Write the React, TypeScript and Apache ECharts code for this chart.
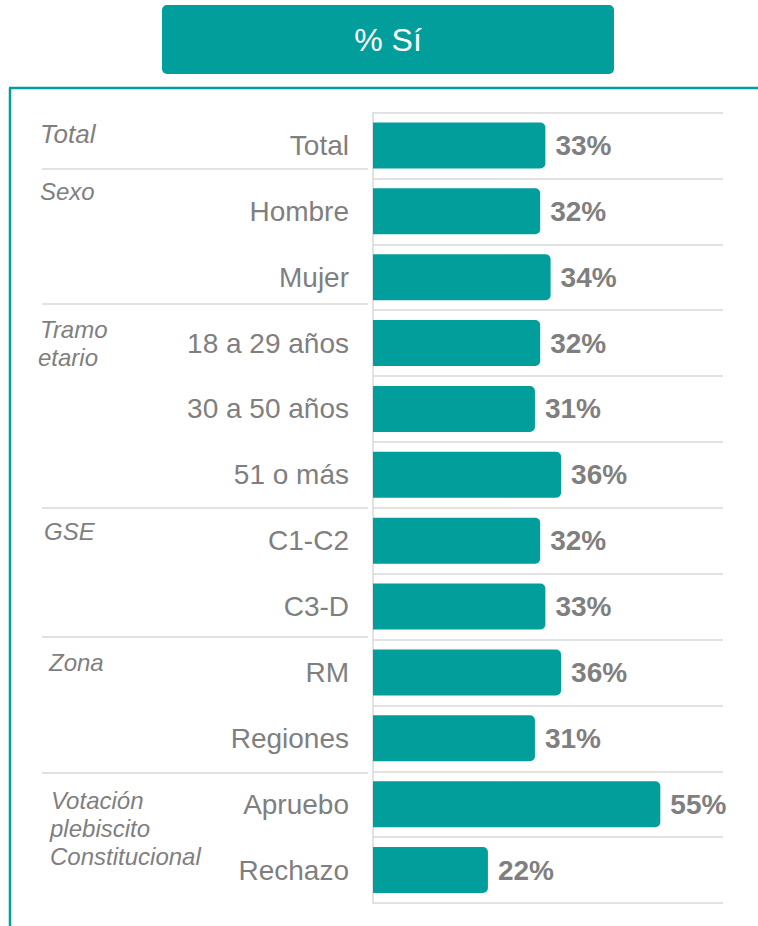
import React, { useEffect, useRef } from "react";
import * as echarts from "echarts";

const categories = [
  "Total",
  "Hombre",
  "Mujer",
  "18 a 29 años",
  "30 a 50 años",
  "51 o más",
  "C1-C2",
  "C3-D",
  "RM",
  "Regiones",
  "Apruebo",
  "Rechazo",
];
const values = [33, 32, 34, 32, 31, 36, 32, 33, 36, 31, 55, 22];
const headerTitle = "% Sí";
// group label lines: [text, x, centerY, fontSize]
const groupLabels: [string, number, number, number][] = [
  ["Total", 40, 134, 26],
  ["Sexo", 40, 191, 24],
  ["Tramo", 40, 329, 24],
  ["etario", 38, 357, 24],
  ["GSE", 44, 531, 24],
  ["Zona", 49, 662, 24],
  ["Votación", 51, 800, 24],
  ["plebiscito", 50, 828, 24],
  ["Constitucional", 50, 856, 24],
];
const separatorYs = [169, 304, 508, 637, 773];

const TEAL = "#029E9B";
const GRAY = "#7F7F7F";
const LINE = "#D9D9D9";
const FONT = "'Liberation Sans', Arial, sans-serif";

export default function App() {
  const ref = useRef<HTMLDivElement>(null);
  useEffect(() => {
    if (!ref.current) return;
    const chart = echarts.init(ref.current, undefined, { renderer: "svg" });
    const graphics: any[] = [
      {
        type: "rect",
        shape: { x: 162, y: 5, width: 452, height: 69, r: 5 },
        style: { fill: TEAL },
      },
      {
        type: "text",
        x: 388,
        y: 40,
        style: {
          text: headerTitle,
          fill: "#FFFFFF",
          font: `32px ${FONT}`,
          textAlign: "center",
          textVerticalAlign: "middle",
        },
      },
      {
        type: "line",
        shape: { x1: 10, y1: 88, x2: 10, y2: 926 },
        style: { stroke: TEAL, lineWidth: 2.5 },
      },
      {
        type: "line",
        shape: { x1: 9, y1: 88, x2: 758, y2: 88 },
        style: { stroke: TEAL, lineWidth: 2.5 },
      },
      ...separatorYs.map((y) => ({
        type: "line",
        shape: { x1: 42, y1: y, x2: 368, y2: y },
        style: { stroke: LINE, lineWidth: 1.5 },
      })),
      ...groupLabels.map(([t, x, y, fs]) => ({
        type: "text",
        x,
        y,
        style: {
          text: t,
          fill: GRAY,
          font: `italic ${fs}px ${FONT}`,
          textAlign: "left",
          textVerticalAlign: "middle",
        },
      })),
    ];
    chart.setOption({
      animation: false,
      textStyle: { fontFamily: FONT },
      grid: { left: 373, top: 112.5, right: 35, bottom: 23, containLabel: false },
      xAxis: {
        type: "value",
        min: 0,
        max: 67,
        show: false,
      },
      yAxis: {
        type: "category",
        data: categories,
        inverse: true,
        axisLine: { show: true, lineStyle: { color: LINE, width: 1.5 } },
        axisTick: { show: false },
        splitLine: { show: true, lineStyle: { color: LINE, width: 1.5 } },
        axisLabel: {
          color: GRAY,
          fontSize: 28,
          fontFamily: FONT,
          margin: 24,
        },
      },
      series: [
        {
          type: "bar",
          data: values,
          barWidth: 46,
          itemStyle: { color: TEAL, borderRadius: [0, 5, 5, 0] },
          label: {
            show: true,
            position: "right",
            distance: 10,
            formatter: "{c}%",
            color: GRAY,
            fontSize: 28,
            fontWeight: "bold",
            fontFamily: FONT,
          },
        },
      ],
      graphic: graphics,
    });
    return () => chart.dispose();
  }, []);
  return (
    <div
      ref={ref}
      style={{ position: "fixed", left: 0, top: 0, width: 758, height: 926, background: "#fff" }}
    />
  );
}
